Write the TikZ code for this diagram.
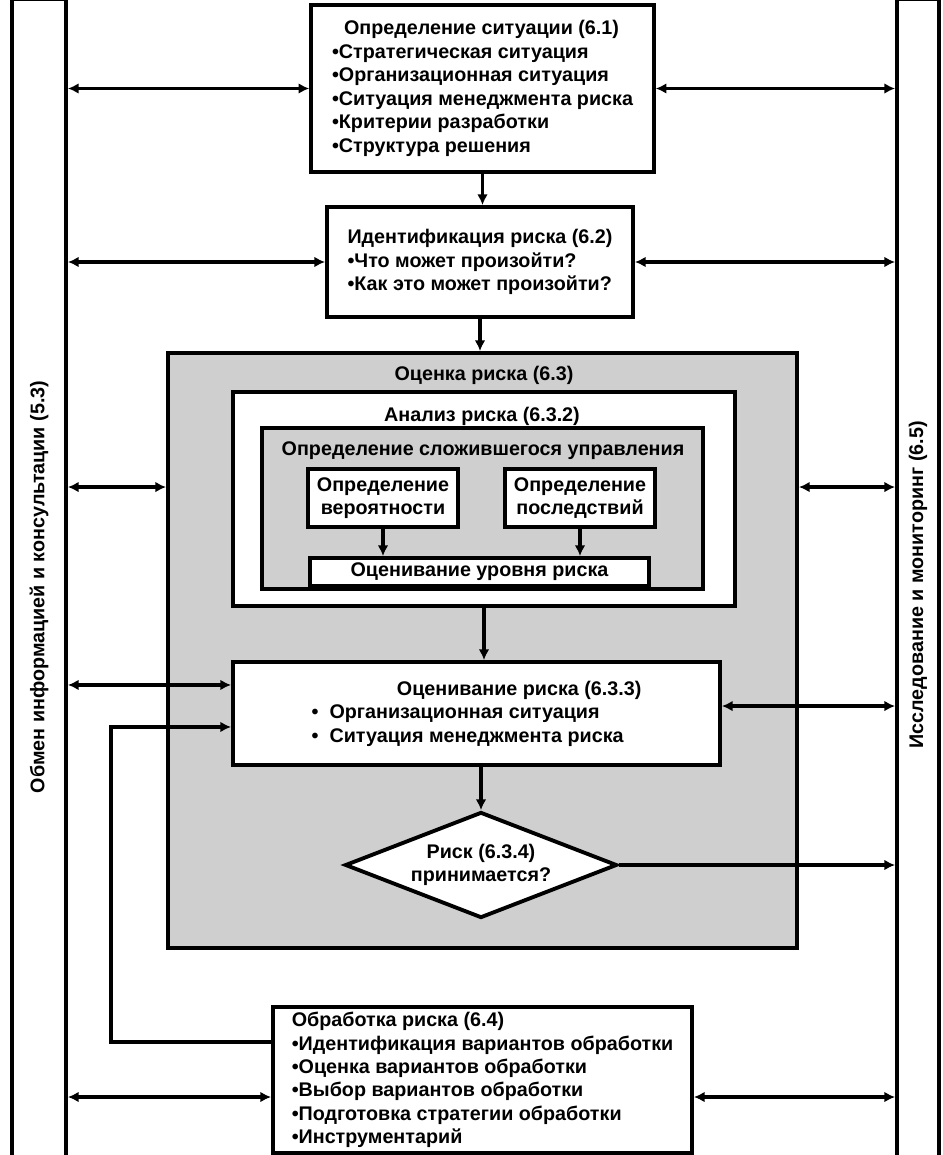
\documentclass[tikz,border=0pt]{standalone}
\usepackage{fontspec}
\setmainfont{Liberation Sans}
\usetikzlibrary{arrows.meta,shapes.geometric}

\definecolor{riskgray}{RGB}{207,207,207}

\begin{document}
\begin{tikzpicture}[x=0.75pt,y=-0.75pt,
    font=\fontsize{14.8}{17.6}\selectfont\bfseries,
    blok/.style={draw, line width=2.9pt, fill=white, inner sep=0pt},
    pole/.style={blok, minimum height=880pt},
    strelka/.style={line width=2.5pt, -{Latex[length=8pt,width=8pt]}},
    dvestrelki/.style={line width=2.5pt, {Latex[length=8pt,width=8pt]}-{Latex[length=8pt,width=8pt]}}]
  \clip (0,0) rectangle (942,1155);
  \fill[white] (0,0) rectangle (942,1155);

  \node[pole, minimum width=40.5pt] (obmen) at (39,586) {};
  \node[rotate=90] (obmentext) at (39,587) {Обмен информацией и консультации (5.3)};
  \node[pole, minimum width=31.5pt] (monitor) at (918,586) {};
  \node[rotate=90] (monitortext) at (918,585) {Исследование и мониторинг (6.5)};

  \node[blok, minimum width=257pt, minimum height=125pt, align=left] (situacia) at (482.5,88.5)
    {\hspace*{9pt}Определение ситуации (6.1)\\•Стратегическая ситуация\\•Организационная ситуация\\•Ситуация менеджмента риска\\•Критерии разработки\\•Структура решения};
  \node[blok, minimum width=229.5pt, minimum height=82.5pt, align=left] (ident) at (480,262)
    {Идентификация риска (6.2)\\•Что может произойти?\\•Как это может произойти?};

  \node[blok, fill=riskgray, minimum width=471.75pt, minimum height=446.25pt] (ocenka) at (482.5,650.5) {};
  \node (ocenkatitle) at (484,375) {Оценка риска (6.3)};
  \node[blok, minimum width=376.5pt, minimum height=160.5pt] (analiz) at (484,499) {};
  \node (analiztitle) at (482,416) {Анализ риска (6.3.2)};
  \node[blok, fill=riskgray, minimum width=330.75pt, minimum height=120.75pt] (upravlenie) at (482.5,508.5) {};
  \node (upravlenietitle) at (483,451) {Определение сложившегося управления};
  \node[blok, minimum width=112.5pt, minimum height=43.5pt, align=center] (veroyatnost) at (383,498) {Определение\\вероятности};
  \node[blok, minimum width=112.5pt, minimum height=43.5pt, align=center] (posledstviya) at (580,498) {Определение\\последствий};
  \node[blok, minimum width=254.25pt, minimum height=21pt] (uroven) at (479.5,572) {Оценивание уровня риска};
  \node[blok, minimum width=365.25pt, minimum height=77.25pt, align=left] (ocenivanie) at (476.5,713.5)
    {\hspace*{64pt}Оценивание риска (6.3.3)\\•~~Организационная ситуация\\•~~Ситуация менеджмента риска};
  \node[blok, diamond, aspect=2.57, minimum width=204pt, minimum height=79.5pt, align=center] (reshenie) at (481,865)
    {Риск (6.3.4)\\принимается?};
  \node[blok, minimum width=314.25pt, minimum height=109.5pt, align=left] (obrabotka) at (482.5,1080)
    {Обработка риска (6.4)\\•Идентификация вариантов обработки\\•Оценка вариантов обработки\\•Выбор вариантов обработки\\•Подготовка стратегии обработки\\•Инструментарий};

  \coordinate (ocenkaL) at ([yshift=122.6pt]ocenka.west);
  \coordinate (ocenkaR) at ([yshift=122.6pt]ocenka.east);
  \coordinate (ocenivanieL) at ([yshift=21.4pt]ocenivanie.west);
  \coordinate (ocenivanieR) at ([yshift=5.6pt]ocenivanie.east);
  \coordinate (ocenivanieP) at ([yshift=-10.1pt]ocenivanie.west);
  \coordinate (obrabotkaL) at ([yshift=-12.75pt]obrabotka.west);
  \coordinate (obrabotkaR) at ([yshift=-12.75pt]obrabotka.east);
  \coordinate (obrabotkaP) at ([yshift=28.5pt]obrabotka.west);
  \coordinate (petlya) at ([xshift=-90pt]ocenivanieP);

  \draw[strelka] (situacia.south) -- (situacia.south |- ident.north);
  \draw[strelka] (ident.south) -- (ident.south |- ocenka.north);
  \draw[strelka] (veroyatnost.south) -- (veroyatnost.south |- uroven.north);
  \draw[strelka] (posledstviya.south) -- (posledstviya.south |- uroven.north);
  \draw[strelka] (analiz.south) -- (analiz.south |- ocenivanie.north);
  \draw[strelka] (ocenivanie.south -| reshenie.north) -- (reshenie.north);
  \draw[strelka] (reshenie.east) -- (monitor.west |- reshenie.east);
  \draw[strelka] (obrabotkaP) -| (petlya) -- (ocenivanieP);

  \foreach \blk in {situacia,ident} {
    \draw[dvestrelki] (obmen.east |- \blk.west) -- (\blk.west);
    \draw[dvestrelki] (\blk.east) -- (monitor.west |- \blk.east);
  }
  \foreach \lev in {ocenka,ocenivanie,obrabotka} {
    \draw[dvestrelki] (obmen.east |- \lev L) -- (\lev L);
    \draw[dvestrelki] (\lev R) -- (monitor.west |- \lev R);
  }
\end{tikzpicture}
\end{document}
